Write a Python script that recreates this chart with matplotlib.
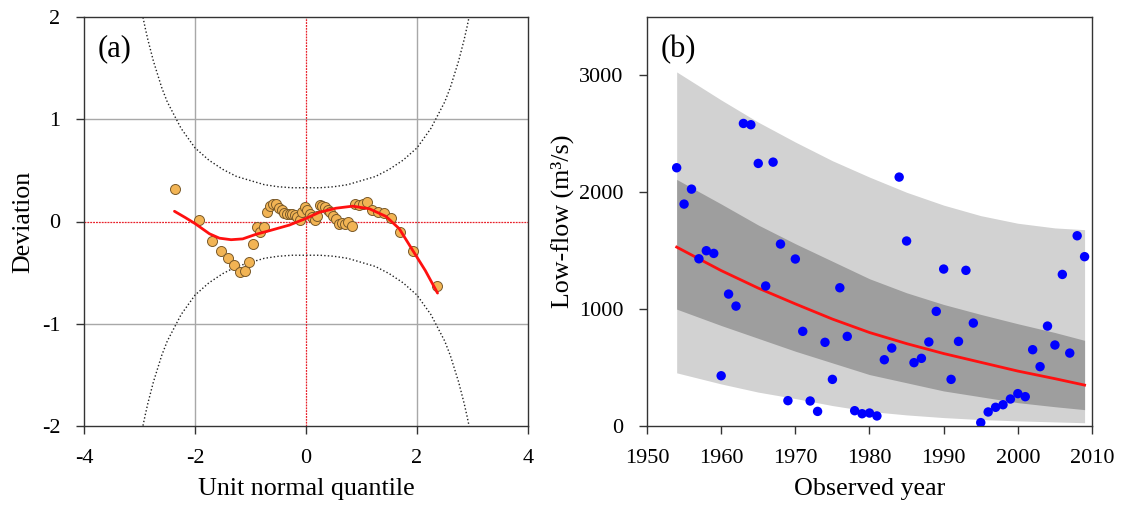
import matplotlib
matplotlib.use("Agg")
import matplotlib.pyplot as plt
import numpy as np

plt.rcParams['font.family'] = ['Liberation Serif', 'DejaVu Serif']
plt.rcParams['axes.unicode_minus'] = False

# ---------------- Panel (a): worm plot ----------------
worm_q = [-2.369, -1.931, -1.699, -1.534, -1.403, -1.291, -1.195, -1.108, -1.029, -0.955,
          -0.887, -0.823, -0.761, -0.703, -0.647, -0.592, -0.540, -0.489, -0.439, -0.390,
          -0.342, -0.295, -0.248, -0.203, -0.157, -0.112, -0.067, -0.022,
          0.022, 0.067, 0.112, 0.157, 0.203, 0.248, 0.295, 0.342, 0.390, 0.439,
          0.489, 0.540, 0.592, 0.647, 0.703, 0.761, 0.823, 0.887, 0.955, 1.029,
          1.108, 1.195, 1.291, 1.403, 1.534, 1.699, 1.931, 2.369]
worm_dev = [0.32, 0.01, -0.19, -0.29, -0.355, -0.43, -0.495, -0.48, -0.40, -0.22,
            -0.05, -0.10, -0.05, 0.09, 0.156, 0.17, 0.17, 0.13, 0.11, 0.08,
            0.075, 0.075, 0.07, 0.068, 0.04, 0.016, 0.09, 0.14,
            0.11, 0.075, 0.04, 0.01, 0.05, 0.163, 0.15, 0.14, 0.11, 0.09,
            0.052, 0.02, -0.02, -0.013, -0.026, 0.0, -0.046, 0.176, 0.166, 0.176,
            0.19, 0.117, 0.094, 0.088, 0.039, -0.10, -0.29, -0.63]

fit_q = [-2.37, -2.18, -2.0, -1.74, -1.56, -1.35, -1.14, -0.9, -0.66, -0.3, 0.0,
         0.24, 0.54, 0.84, 1.14, 1.44, 1.68, 1.92, 2.15, 2.37]
fit_dev = [0.10, 0.04, -0.02, -0.12, -0.163, -0.178, -0.17, -0.125, -0.09, -0.035, 0.03,
           0.09, 0.13, 0.15, 0.125, 0.05, -0.07, -0.28, -0.48, -0.70]

band_z = [0.0, 0.25, 0.5, 0.75, 1.0, 1.25, 1.5, 1.75, 2.0, 2.25, 2.5, 2.6, 2.75, 2.85, 2.9, 2.95, 3.0]
band_half = [0.33, 0.33, 0.34, 0.36, 0.40, 0.44, 0.51, 0.60, 0.72, 0.91, 1.17, 1.31, 1.57, 1.78, 1.90, 2.03, 2.17]

# ---------------- Panel (b): low-flow series ----------------
years = list(range(1954, 2010))
flow = [2210, 1899, 2027, 1431, 1500, 1477, 430, 1129, 1026, 2589,
        2578, 2247, 1198, 2258, 1557, 217, 1429, 810, 214, 125,
        716, 399, 1183, 767, 131, 105, 111, 86, 567, 667,
        2130, 1583, 542, 579, 719, 981, 1343, 399, 724, 1332,
        881, 29, 120, 160, 182, 231, 277, 251, 653, 508,
        855, 693, 1297, 624, 1628, 1449]

band_years = [1954, 1960, 1965, 1970, 1975, 1980, 1985, 1990, 1995, 2000, 2005, 2009]
outer_upper = [3030, 2790, 2600, 2430, 2270, 2130, 2000, 1890, 1800, 1735, 1695, 1680]
inner_upper = [2110, 1900, 1720, 1560, 1410, 1260, 1140, 1040, 955, 875, 800, 733]
median = [1531, 1330, 1180, 1045, 915, 800, 705, 620, 545, 470, 405, 350]
inner_lower = [1000, 860, 750, 640, 540, 440, 370, 300, 250, 200, 165, 140]
outer_lower = [455, 360, 290, 235, 175, 125, 95, 72, 55, 44, 35, 28]

# ---------------- Figure ----------------
W, H = 1121, 507
fig = plt.figure(figsize=(W / 100, H / 100), dpi=100)

def rect(l, r, t, b):
    return [l / W, 1 - b / H, (r - l) / W, (b - t) / H]

ax1 = fig.add_axes(rect(84, 528, 17, 426))
ax2 = fig.add_axes(rect(647, 1092, 17, 426))

tick_fs = 16
lab_fs = 18.7
spine_c = '#333333'

for ax in (ax1, ax2):
    for s in ax.spines.values():
        s.set_color(spine_c)
        s.set_linewidth(1.0)
    ax.tick_params(direction='out', length=6, width=1, color=spine_c,
                   labelsize=tick_fs)
    ax.tick_params(axis='x', pad=10.5)
    ax.tick_params(axis='y', pad=11)

# Panel (a)
ax1.set_xlim(-4, 4)
ax1.set_ylim(-2, 2)
ax1.set_xticks([-4, -2, 0, 2, 4])
ax1.set_yticks([-2, -1, 0, 1, 2])
for gx in (-2, 2):
    ax1.axvline(gx, color='#a8a8a8', lw=1.0, zorder=1)
for gy in (-1, 1):
    ax1.axhline(gy, color='#a8a8a8', lw=1.0, zorder=1)
ax1.axvline(0, color='#e8202a', lw=0.9, ls=(0, (1.5, 0.8)), zorder=1.5)
ax1.axhline(0, color='#e8202a', lw=0.9, ls=(0, (1.5, 0.8)), zorder=1.5)

bz = np.array(band_z)
bh = np.array(band_half)
zz = np.concatenate([-bz[::-1], bz[1:]])
hh = np.concatenate([bh[::-1], bh[1:]])
ax1.plot(zz, hh, color='#222222', lw=1.0, ls=(0, (1, 1.6)), zorder=2)
ax1.plot(zz, -hh, color='#222222', lw=1.0, ls=(0, (1, 1.6)), zorder=2)

ax1.scatter(worm_q, worm_dev, s=52, facecolor='#f2b454', edgecolor='#7a5a2a',
            linewidth=0.7, zorder=3)
ax1.plot(fit_q, fit_dev, color='#ff1010', lw=2.0, zorder=4, solid_capstyle='round')

ax1.set_xlabel('Unit normal quantile', fontsize=lab_fs)
ax1.set_ylabel('Deviation', fontsize=lab_fs)
ax1.xaxis.set_label_coords(0.5, -0.128)
ax1.yaxis.set_label_coords(-0.113, 0.5)
ax1.text(0.03, 0.957, '(a)', transform=ax1.transAxes, fontsize=22, va='top', ha='left')

# Panel (b)
ax2.set_xlim(1950, 2010)
ax2.set_ylim(0, 3500)
ax2.set_xticks([1950, 1960, 1970, 1980, 1990, 2000, 2010])
ax2.set_yticks([0, 1000, 2000, 3000])
ax2.fill_between(band_years, outer_lower, outer_upper, color='#d2d2d2', lw=0, zorder=1)
ax2.fill_between(band_years, inner_lower, inner_upper, color='#9e9e9e', lw=0, zorder=2)
ax2.plot(band_years, median, color='#ff1010', lw=2.0, zorder=3)
ax2.scatter(years, flow, s=46, color='#0000ff', edgecolor='none', zorder=4)

ax2.set_xlabel('Observed year', fontsize=lab_fs)
ax2.set_ylabel('Low-flow (m³/s)', fontsize=lab_fs)
ax2.xaxis.set_label_coords(0.5, -0.128)
ax2.yaxis.set_label_coords(-0.165, 0.5)
ax2.text(0.03, 0.957, '(b)', transform=ax2.transAxes, fontsize=22, va='top', ha='left')

fig.savefig('out.png', dpi=100)
